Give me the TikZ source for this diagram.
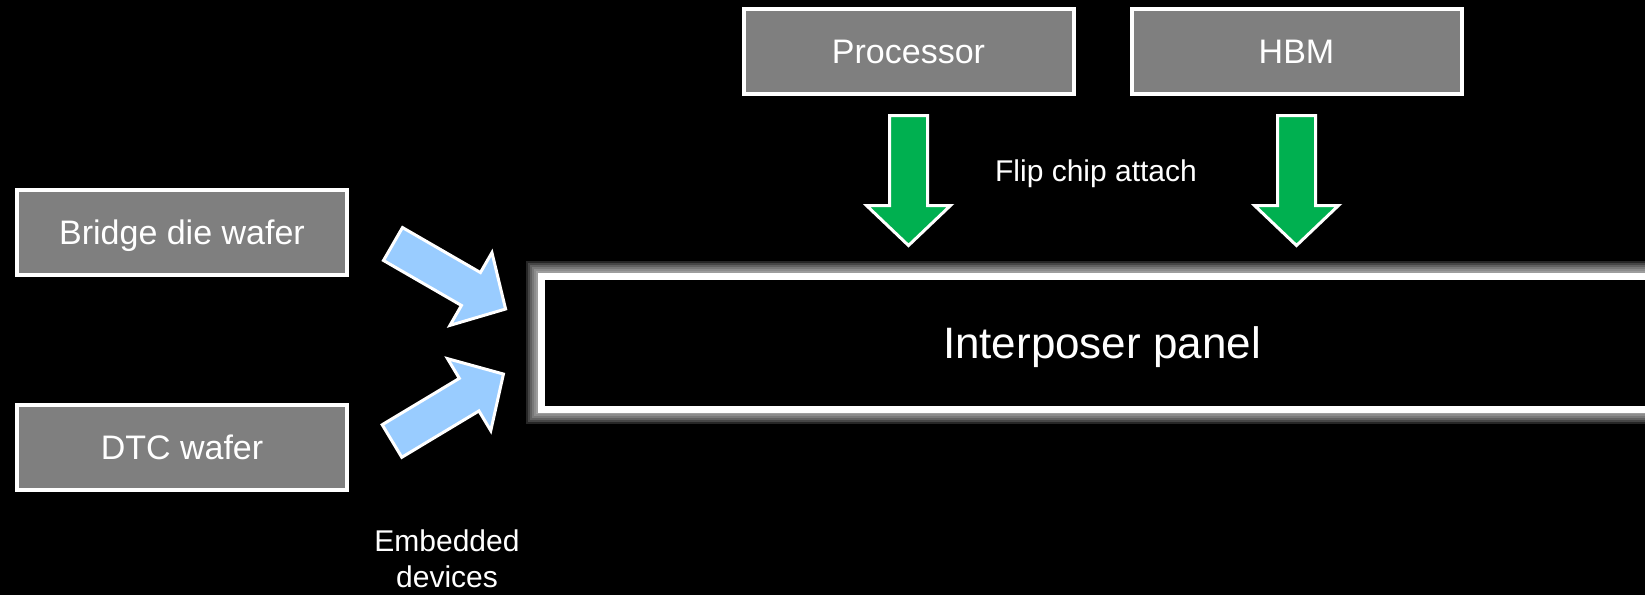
\documentclass[tikz,border=0pt]{standalone}
\usepackage{fontspec}
\setmainfont{Liberation Sans}
\usetikzlibrary{calc}
\definecolor{chipgray}{RGB}{127,127,127}
\definecolor{flipgreen}{RGB}{0,176,80}
\definecolor{embedblue}{RGB}{153,204,255}
\newcommand{\blockarrow}[3]{%
  \filldraw[blk,fill=#3,shift={#1},rotate=#2]
    (0,-19) -- (90,-19) -- (90,-42) -- (130,0) -- (90,42) -- (90,19) -- (0,19) -- cycle;}

\begin{document}
\begin{tikzpicture}[x=0.5pt,y=-0.5pt,
  chip/.style={draw=white,line width=2pt,fill=chipgray,text=white,
    minimum width=165pt,minimum height=42.5pt,
    font=\fontsize{17}{20}\selectfont,text height=12pt,text depth=0pt},
  glow/.style={preaction={draw=white,fill=none,opacity=0.15,line width=#1}},
  panelbox/.style={draw=white,line width=3.5pt,fill=black,text=white,
    minimum width=561pt,minimum height=66.5pt,
    font=\fontsize{22}{26}\selectfont,text height=15.75pt,text depth=0pt,
    glow=15pt,glow=13pt,glow=11pt,glow=9pt,glow=7pt,glow=5pt},
  blk/.style={draw=white,line width=1.5pt},
  lbl/.style={text=white,font=\fontsize{15}{18}\selectfont,inner sep=0pt}]
  \path[use as bounding box,fill=black] (0,0) rectangle (1645,595);
  \node[chip] (bridge) at (182,232.5) {Bridge die wafer};
  \node[chip] (dtc) at (182,447.5) {DTC wafer};
  \node[chip] (proc) at (908.5,51) {Processor};
  \node[chip] (hbm) at (1296.5,51) {HBM};
  \node[panelbox] (panel) at (1102,342.5) {Interposer panel};
  \blockarrow{($(proc.south)+(0,20)$)}{-90}{flipgreen}
  \blockarrow{($(hbm.south)+(0,20)$)}{-90}{flipgreen}
  \blockarrow{($(bridge.east)+(44,11.5)$)}{-30}{embedblue}
  \blockarrow{($(dtc.east)+(43,-6.5)$)}{31}{embedblue}
  \node[lbl,anchor=base] (flip) at (1096,181) {Flip chip attach};
  \node[lbl,align=center,anchor=north] (embed) at (447,529) {Embedded\\devices};
\end{tikzpicture}
\end{document}
